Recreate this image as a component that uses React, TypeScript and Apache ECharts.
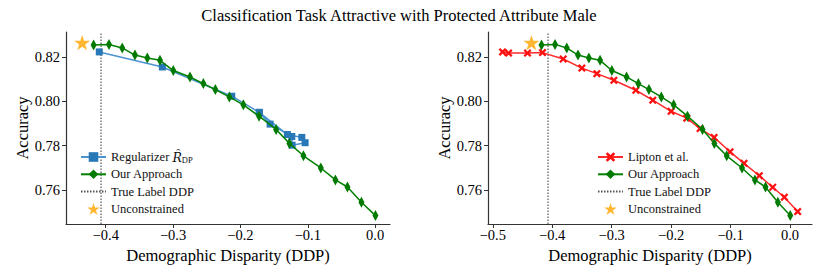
import React, { useEffect, useRef } from "react";
import * as echarts from "echarts";

const TITLE = "Classification Task Attractive with Protected Attribute Male";
const X_NAME = "Demographic Disparity (DDP)";
const Y_NAME = "Accuracy";

const ourX = [-0.418, -0.3952, -0.3755, -0.3566, -0.3383, -0.3195, -0.2997, -0.2749, -0.2551, -0.2373, -0.2165, -0.1957, -0.1724, -0.1471, -0.1273, -0.1065, -0.0807, -0.059, -0.0412, -0.0204, 0.0004];
const ourY = [0.8254, 0.8257, 0.8241, 0.8209, 0.8196, 0.8185, 0.8139, 0.811, 0.808, 0.8053, 0.802, 0.7984, 0.7933, 0.7873, 0.781, 0.7754, 0.7699, 0.7645, 0.7613, 0.7544, 0.7484];

const regX = [-0.4096, -0.316, -0.2129, -0.172, -0.156, -0.1238, -0.1233, -0.104, -0.1089, -0.1303, -0.172];
const regY = [0.8223, 0.8155, 0.8023, 0.795, 0.7897, 0.7841, 0.7802, 0.7813, 0.7837, 0.785, 0.795];

const liptonX = [-0.4835, -0.4734, -0.4415, -0.4163, -0.3815, -0.3501, -0.3249, -0.2963, -0.2593, -0.2308, -0.2, -0.1737, -0.1513, -0.1277, -0.1008, -0.0773, -0.0516, -0.0291, -0.0095, 0.0129];
const liptonY = [0.8223, 0.8218, 0.8218, 0.822, 0.8191, 0.815, 0.8125, 0.8095, 0.805, 0.8005, 0.7955, 0.7924, 0.7877, 0.7837, 0.7772, 0.772, 0.7664, 0.7612, 0.7567, 0.7502];

const trueLabelDDP = -0.407;
const unconstrained = [-0.435, 0.8265];

const leftXTicks = [-0.4, -0.3, -0.2, -0.1, 0.0];
const rightXTicks = [-0.5, -0.4, -0.3, -0.2, -0.1, 0.0];
const yTicks = [0.76, 0.78, 0.8, 0.82];

const Y_MIN = 0.7446;
const Y_MAX = 0.8313;

const zip = (xs: number[], ys: number[]) => xs.map((x, i) => [x, ys[i]]);

const SERIF = "Liberation Serif";
const AXIS_COLOR = "#333";
const X_PATH = "path://M0,2 L2,0 L5,3 L8,0 L10,2 L7,5 L10,8 L8,10 L5,7 L2,10 L0,8 L3,5 Z";
const STAR_PATH =
  "path://M10,0 L12.245,6.91 L19.511,6.91 L13.633,11.18 L15.878,18.09 L10,13.82 L4.122,18.09 L6.367,11.18 L0.489,6.91 L7.755,6.91 Z";

function xAxis(grid: number, min: number, max: number, ticks: number[]) {
  return {
    type: "value",
    gridIndex: grid,
    min,
    max,
    axisLine: { show: true, onZero: false, lineStyle: { color: AXIS_COLOR, width: 1.2 } },
    axisTick: { show: true, customValues: ticks, length: 4, lineStyle: { color: AXIS_COLOR, width: 1 } },
    axisLabel: {
      customValues: ticks,
      formatter: (v: number) => v.toFixed(1).replace("-", "\u2212"),
      margin: 3,
      fontSize: 14.5,
      fontFamily: SERIF,
      color: "#000",
    },
    splitLine: { show: false },
    name: X_NAME,
    nameLocation: "middle",
    nameGap: 15,
    nameTextStyle: { fontSize: 16.5, fontFamily: SERIF, color: "#000" },
  };
}

function yAxis(grid: number) {
  return {
    type: "value",
    gridIndex: grid,
    min: Y_MIN,
    max: Y_MAX,
    axisLine: { show: true, onZero: false, lineStyle: { color: AXIS_COLOR, width: 1.2 } },
    axisTick: { show: true, customValues: yTicks, length: 4, lineStyle: { color: AXIS_COLOR, width: 1 } },
    axisLabel: {
      customValues: yTicks,
      formatter: (v: number) => v.toFixed(2),
      margin: 6,
      fontSize: 14.5,
      fontFamily: SERIF,
      color: "#000",
    },
    splitLine: { show: false },
    name: Y_NAME,
    nameLocation: "middle",
    nameGap: 35,
    nameTextStyle: { fontSize: 16.5, fontFamily: SERIF, color: "#000" },
  };
}

function ourSeries(idx: number) {
  return {
    name: "Our Approach",
    type: "line",
    xAxisIndex: idx,
    yAxisIndex: idx,
    data: zip(ourX, ourY),
    symbol: "diamond",
    symbolSize: [6, 11],
    showAllSymbol: true,
    itemStyle: { color: "#007a00" },
    lineStyle: { color: "#008000", width: 1.5 },
    z: 3,
  };
}

function trueSeries(idx: number) {
  return {
    name: "True Label DDP",
    type: "line",
    xAxisIndex: idx,
    yAxisIndex: idx,
    data: [
      [trueLabelDDP, Y_MIN],
      [trueLabelDDP, Y_MAX],
    ],
    symbol: "none",
    itemStyle: { color: "#555" },
    lineStyle: { color: "#555", width: 1.2, type: [1.5, 1.5] },
    z: 1,
  };
}

function starSeries(idx: number) {
  return {
    name: "Unconstrained",
    type: "scatter",
    xAxisIndex: idx,
    yAxisIndex: idx,
    data: [unconstrained],
    symbol: STAR_PATH,
    symbolKeepAspect: true,
    symbolSize: 16,
    itemStyle: { color: "#FFA500" },
    z: 6,
  };
}

function legend(left: number, first: string) {
  return {
    orient: "vertical",
    left,
    top: 145,
    itemWidth: 25,
    itemHeight: 12,
    itemGap: 3.3,
    data: [
      { name: first },
      { name: "Our Approach" },
      { name: "True Label DDP", itemStyle: { opacity: 0 } },
      { name: "Unconstrained", icon: STAR_PATH },
    ],
    formatter: (name: string) =>
      name === "Regularizer" ? "{a|Regularizer }{b|R\u0302}{c|DP}" : name,
    textStyle: {
      fontFamily: SERIF,
      fontSize: 12.5,
      lineHeight: 14,
      color: "#111",
      rich: {
        a: { fontFamily: SERIF, fontSize: 12.5, lineHeight: 14, color: "#111" },
        b: { fontFamily: "DejaVu Serif", fontStyle: "italic", fontSize: 12.5, lineHeight: 14, color: "#111" },
        c: { fontFamily: SERIF, fontSize: 8.5, lineHeight: 14, color: "#111", verticalAlign: "bottom", padding: [4, 0, 0, 0] },
      },
    },
  };
}

export default function App() {
  const ref = useRef<HTMLDivElement>(null);
  useEffect(() => {
    if (!ref.current) return;
    const chart = echarts.init(ref.current, undefined, { renderer: "svg" });
    chart.setOption({
      animation: false,
      backgroundColor: "#fff",
      textStyle: { fontFamily: SERIF },
      graphic: [
        {
          type: "text",
          x: 399,
          y: 15,
          style: {
            text: TITLE,
            font: `16.5px "${SERIF}"`,
            fill: "#000",
            textAlign: "center",
            textVerticalAlign: "middle",
          },
        },
      ],
      grid: [
        { left: 66, top: 32, width: 324, height: 192 },
        { left: 488, top: 32, width: 324, height: 192 },
      ],
      xAxis: [xAxis(0, -0.459, 0.022, leftXTicks), xAxis(1, -0.508, 0.037, rightXTicks)],
      yAxis: [yAxis(0), yAxis(1)],
      legend: [legend(75, "Regularizer"), legend(592, "Lipton et al.")],
      series: [
        trueSeries(0),
        {
          name: "Regularizer",
          type: "line",
          xAxisIndex: 0,
          yAxisIndex: 0,
          data: zip(regX, regY),
          symbol: "rect",
          symbolSize: 7,
          showAllSymbol: true,
          itemStyle: { color: "#2878b8" },
          lineStyle: { color: "#4a93d0", width: 1.5 },
          z: 2,
        },
        ourSeries(0),
        starSeries(0),
        trueSeries(1),
        {
          name: "Lipton et al.",
          type: "line",
          xAxisIndex: 1,
          yAxisIndex: 1,
          data: zip(liptonX, liptonY),
          symbol: X_PATH,
          symbolSize: 8,
          showAllSymbol: true,
          itemStyle: { color: "#ff1010" },
          lineStyle: { color: "#ff2a2a", width: 1.5 },
          z: 2,
        },
        ourSeries(1),
        starSeries(1),
      ],
    });
    return () => chart.dispose();
  }, []);
  return (
    <div
      ref={ref}
      style={{ position: "fixed", left: 0, top: 0, width: 830, height: 277, background: "#fff" }}
    />
  );
}
